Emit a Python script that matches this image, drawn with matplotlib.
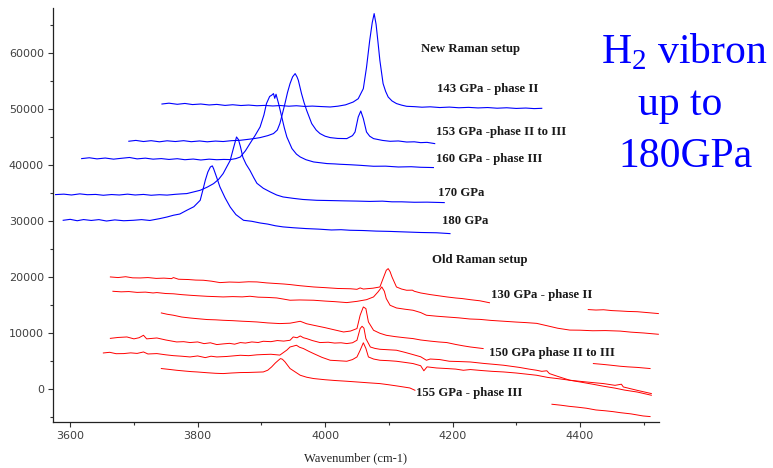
import numpy as np
import matplotlib
matplotlib.use("Agg")
import matplotlib.pyplot as plt
from matplotlib.ticker import MultipleLocator

nan = np.nan

# ---------------- data (wavenumber cm-1, intensity) ----------------
new_143 = [(3744,50950),(3755,51100),(3768,50900),(3780,51050),(3792,50850),(3805,50950),(3818,50780),
           (3830,50880),(3843,50700),(3855,50820),(3868,50680),(3880,50760),(3893,50640),(3905,50700),
           (3918,50600),(3930,50680),(3943,50560),(3955,50640),(3968,50520),(3980,50580),(3993,50500),
           (4008,50420),(4020,50560),(4032,50800),(4044,51300),(4052,51900),(4060,53700),(4065,57500),
           (4070,62300),(4074,65500),(4077,67100),(4080,65200),(4083,62000),(4086,58700),(4091,54600),
           (4095,53200),(4099,52200),(4105,51500),(4112,51030),(4120,50750),(4128,50540),(4140,50480),
           (4152,50380),(4165,50450),(4180,50320),(4195,50400),(4210,50280),(4225,50350),(4240,50250),
           (4255,50320),(4270,50200),(4285,50280),(4300,50160),(4315,50230),(4328,50130),(4340,50180)]

new_153 = [(3692,44300),(3703,44450),(3715,44250),(3727,44400),(3740,44200),(3752,44380),(3765,44250),
           (3778,44400),(3790,44220),(3803,44350),(3815,44200),(3828,44330),(3840,44250),(3853,44400),
           (3867,44470),(3880,44650),(3890,44800),(3898,44950),(3910,45300),(3919,45670),(3925,46300),
           (3929,47450),(3933,49200),(3937,51020),(3941,53000),(3945,54600),(3949,55800),(3953,56380),
           (3956,55780),(3958,55190),(3963,52810),(3967,51200),(3971,49830),(3979,47450),(3986,46300),
           (3992,45670),(4000,45200),(4008,44950),(4020,44800),(4034,44770),(4043,45300),(4047,45950),
           (4052,48630),(4056,49700),(4060,48350),(4065,45950),(4070,45200),(4076,44770),(4090,44450),
           (4102,44290),(4115,44350),(4128,44160),(4140,44200),(4150,44050),(4160,44100),(4172,43880)]

new_160 = [(3618,41200),(3630,41350),(3642,41150),(3655,41300),(3668,41100),(3680,41250),(3693,41400),
           (3705,41150),(3718,41280),(3730,41100),(3743,41200),(3755,41050),(3768,41180),(3780,41000),
           (3793,41120),(3805,40950),(3818,41100),(3830,41000),(3841,41050),(3851,41020),(3860,41200),
           (3867,41490),(3875,42600),(3882,43880),(3890,45300),(3898,46850),(3904,49000),(3908,51030),
           (3913,52300),(3916,52510),(3919,52810),(3921,51970),(3923,52690),(3927,51030),(3932,48630),
           (3936,46700),(3940,45060),(3948,42990),(3955,42000),(3961,41490),(3970,41000),(3982,40600),
           (3993,40450),(4003,40310),(4015,40250),(4023,40190),(4040,40100),(4055,40000),(4076,39830),
           (4095,39850),(4115,39700),(4135,39750),(4150,39650),(4170,39600)]

new_170 = [(3577,34770),(3590,34850),(3602,34700),(3615,34900),(3627,34750),(3640,34800),(3652,34650),
           (3665,34780),(3677,34700),(3690,34850),(3702,34700),(3715,34800),(3727,34650),(3740,34750),
           (3752,34680),(3765,34820),(3775,34900),(3783,34950),(3792,35200),(3804,35540),(3815,36100),
           (3825,36730),(3833,37500),(3840,38520),(3846,39800),(3851,40850),(3856,42990),(3861,45060),
           (3864,44600),(3867,43400),(3871,41430),(3876,40200),(3882,39110),(3888,37800),(3893,36790),
           (3903,35900),(3914,35240),(3924,34700),(3934,34350),(3950,34100),(3965,33900),(3987,33750),
           (4010,33700),(4030,33650),(4050,33610),(4070,33550),(4090,33600),(4105,33480),(4120,33480),
           (4140,33400),(4160,33420),(4187,33340)]

new_180 = [(3589,30180),(3600,30350),(3611,30100),(3621,30310),(3633,30150),(3645,30300),(3657,30050),
           (3670,30250),(3684,30100),(3699,30180),(3712,30300),(3725,30150),(3741,30490),(3752,30770),
           (3762,31080),(3772,31300),(3783,31970),(3794,32600),(3804,33750),(3808,35500),(3812,37330),
           (3816,38800),(3820,39710),(3823,39900),(3825,39410),(3830,37800),(3835,36130),(3843,34200),
           (3851,32560),(3860,31200),(3872,30180),(3885,30000),(3898,29700),(3910,29500),(3922,29200),
           (3934,29000),(3950,28850),(3970,28700),(3990,28600),(4010,28450),(4025,28500),(4039,28400),
           (4060,28350),(4080,28250),(4100,28200),(4125,28100),(4150,28000),(4175,27950),(4196,27800)]

old_130 = [(3663,20060),(3675,19950),(3687,20100),(3698,19900),(3710,19880),(3722,19950),(3735,19800),
           (3747,19850),(3759,19760),(3762,19950),(3770,19650),(3785,19600),(3797,19500),(3809,19470),
           (3822,19300),(3835,19050),(3850,19150),(3865,19100),(3880,19200),(3893,19170),(3908,19000),
           (3924,18880),(3935,18800),(3945,18700),(3960,18500),(3982,18270),(4000,18150),(4020,18000),
           (4040,17950),(4050,17850),(4055,18100),(4060,17900),(4075,18050),(4086,18270),(4091,19770),
           (4096,21250),(4099,21550),(4102,21000),(4105,20060),(4112,18270),(4120,17900),(4128,17680),
           (4137,17700),(4140,17500),(4150,17200),(4165,16910),(4178,16700),(4191,16490),(4205,16300),
           (4215,16200),(4228,16000),(4243,15800),(4258,15450),(nan,nan),(4413,14230),(4425,14150),
           (4437,14200),(4450,14050),(4463,13980),(4475,13900),(4490,13850),(4505,13700),(4523,13520)]

old_2 = [(3667,17500),(3680,17400),(3692,17450),(3705,17300),(3718,17350),(3730,17200),(3736,17270),
         (3750,17100),(3762,17050),(3775,16900),(3788,16790),(3800,16700),(3815,16600),(3827,16550),
         (3840,16490),(3855,16550),(3870,16500),(3882,16610),(3895,16450),(3910,16400),(3924,16310),
         (3935,16100),(3945,15900),(3960,15950),(3982,15900),(4000,15750),(4015,15650),(4034,15480),
         (4050,15700),(4065,16000),(4076,16490),(4083,17380),(4089,18270),(4093,17500),(4096,16200),
         (4102,15000),(4112,14520),(4125,14300),(4138,14110),(4150,13700),(4159,13220),(4175,13050),
         (4191,12910),(4210,12750),(4227,12550),(4243,12480),(4260,12300),(4280,12150),(4300,12000),
         (4316,11900),(4332,11770),(4350,11300),(4365,10900),(4384,10570),(4400,10550),(4420,10450),
         (4440,10480),(4463,10390),(4480,10200),(4500,10050),(4523,9820)]

old_3 = [(3743,13630),(3752,13400),(3762,13220),(3775,12900),(3788,12730),(3800,12600),(3815,12450),
         (3828,12400),(3840,12320),(3855,12250),(3870,12150),(3880,12100),(3893,12020),(3910,11850),
         (3929,11730),(3945,11800),(3961,12140),(3971,11700),(3982,11430),(4000,11000),(4015,10600),
         (4029,10230),(4040,10400),(4050,10840),(4055,13220),(4060,14700),(4064,14410),(4068,12020),
         (4076,10540),(4086,10000),(4096,9640),(4110,9400),(4125,9200),(4138,9050),(4150,8800),
         (4165,8600),(4178,8450),(4191,8340),(4205,8000),(4217,7750),(4228,7550),(4248,7270),(nan,nan),
         (4421,4590),(4435,4450),(4448,4300),(4463,4110),(4475,4000),(4490,3900),(4500,3800),(4510,3700)]

old_150 = [(3663,9090),(3675,9250),(3689,9340),(3700,9000),(3708,9200),(3715,9640),(3720,9000),
           (3736,9160),(3750,8800),(3767,8450),(3778,8500),(3788,8340),(3800,8450),(3810,8150),
           (3820,8300),(3830,7980),(3840,8100),(3850,8200),(3858,8050),(3867,8340),(3875,8250),
           (3885,8450),(3895,8350),(3903,8570),(3915,8500),(3925,8700),(3935,8600),(3945,8750),
           (3950,9340),(3956,9200),(3961,9520),(3966,9200),(3971,9050),(3980,8700),(3992,8340),
           (4005,8400),(4015,8250),(4025,8300),(4034,8160),(4043,8300),(4050,8750),(4055,10840),
           (4058,11250),(4061,10900),(4064,9050),(4071,7550),(4078,7300),(4086,7140),(4100,7050),
           (4112,6970),(4125,6600),(4138,6190),(4150,5800),(4159,5180),(4165,5400),(4180,5300),
           (4195,5000),(4210,4950),(4228,4870),(4250,4600),(4265,4450),(4280,4290),(4305,3900),
           (4320,3600),(4332,3390),(4340,3200),(4348,3300),(4352,2800),(4365,2300),(4384,1610),
           (4410,1300),(4437,1010),(4455,700),(4465,900),(4468,410),(4490,-200),(4512,-770)]

old_5 = [(3652,6480),(3662,6600),(3672,6350),(3684,6370),(3695,6500),(3705,6400),(3715,6660),
         (3722,6300),(3736,6370),(3750,6150),(3762,6000),(3775,5900),(3788,5770),(3800,5950),
         (3812,5650),(3821,5900),(3830,5770),(3845,5850),(3855,5950),(3867,6070),(3880,6000),
         (3893,6150),(3903,6200),(3915,6250),(3929,6100),(3940,7000),(3945,7550),(3950,7700),
         (3955,7860),(3960,7500),(3966,7270),(3974,6800),(3982,6370),(3995,5700),(4008,5180),
         (4020,5100),(4034,5000),(4043,5300),(4050,5770),(4055,6960),(4060,8300),(4064,7300),
         (4068,5770),(4076,5400),(4086,5180),(4100,5100),(4112,5000),(4125,4800),(4138,4590),
         (4150,4200),(4155,3300),(4160,4000),(4175,3800),(4191,3700),(4205,3600),(4217,3390),
         (4228,3520),(4245,3350),(4262,3200),(4280,3090),(4300,2900),(4316,2700),(4332,2500),
         (4350,2100),(4365,1900),(4384,1610),(4400,1300),(4420,900),(4437,540),(4455,200),
         (4470,-150),(4490,-500),(4512,-1070)]

old_155 = [(3743,3700),(3755,3550),(3767,3390),(3780,3250),(3790,3150),(3799,3090),(3815,2950),
           (3828,2850),(3840,2800),(3853,2900),(3867,2980),(3880,3000),(3893,3050),(3903,3090),
           (3910,3400),(3916,3980),(3922,4700),(3927,5200),(3930,5480),(3933,5360),(3937,4900),
           (3941,4300),(3945,3700),(3953,3100),(3961,2500),(3971,2150),(3982,1910),(4000,1700),
           (4017,1550),(4034,1430),(4050,1300),(4068,1150),(4086,1010),(4100,800),(4115,550),
           (4133,230),(4141,-180),(nan,nan),(4356,-2680),(4370,-2850),(4383,-3050),(4396,-3200),
           (4410,-3390),(4425,-3700),(4440,-3850),(4452,-4000),(4463,-4180),(4480,-4400),
           (4499,-4770),(4510,-4880)]

new_curves = [new_143, new_153, new_160, new_170, new_180]
old_curves = [old_130, old_2, old_3, old_150, old_5, old_155]

new_labels = ["New Raman setup", "143 GPa - phase II", "153 GPa -phase II to III",
              "160 GPa - phase III", "170 GPa", "180 GPa"]
old_labels = ["Old Raman setup", "130 GPa - phase II", "150 GPa phase II to III",
              "155 GPa - phase III"]

x_ticks = [3600, 3800, 4000, 4200, 4400]
y_ticks = [0, 10000, 20000, 30000, 40000, 50000, 60000]

# ---------------- figure ----------------
plt.rcParams['mathtext.fontset'] = 'custom'
plt.rcParams['mathtext.rm'] = 'Liberation Serif'

fig = plt.figure(figsize=(7.73, 4.68), dpi=100)
ax = fig.add_axes([53/773, 46/468, 606/773, 414/468])

for c in new_curves:
    xs, ys = zip(*c)
    ax.plot(xs, ys, color='#0000ff', lw=0.8)
for c in old_curves:
    xs, ys = zip(*c)
    ax.plot(xs, ys, color='#ff0000', lw=0.7)

ax.set_xlim(3573, 4524)
ax.set_ylim(-5850, 68100)
ax.set_xticks(x_ticks)
ax.set_yticks(y_ticks)
ax.xaxis.set_minor_locator(MultipleLocator(100))
ax.yaxis.set_minor_locator(MultipleLocator(5000))
for s in ['top', 'right']:
    ax.spines[s].set_visible(False)
for s in ['left', 'bottom']:
    ax.spines[s].set_color('#222222')
    ax.spines[s].set_linewidth(0.9)
ax.tick_params(which='major', length=3.5, width=0.8, color='#333333',
               labelsize=8.0, labelcolor='#404040', pad=3)
ax.tick_params(which='minor', length=2.5, width=0.8, color='#333333')
ax.set_xlabel("Wavenumber (cm-1)", family='Liberation Serif', fontsize=9,
              color='#222222', labelpad=8)

lab = dict(family='Liberation Serif', fontweight='bold', fontsize=9.2,
           color='#1a1a1a', ha='left', va='center')
new_pos = [(4150, 60700), (4175, 53680), (4174, 45950), (4174, 41120), (4177, 35110), (4183, 30110)]
for t, (px, py) in zip(new_labels, new_pos):
    ax.text(px, py, t, **lab)
old_pos = [(4167, 23090), (4260, 16840), (4257, 6540), (4143, -710)]
for t, (px, py) in zip(old_labels, old_pos):
    ax.text(px, py, t, **lab)

big = dict(family='Liberation Serif', fontsize=30, color='#0000ff', ha='center', va='baseline')
fig.text(0.885, 0.8647, r"H$_\mathrm{2}$ vibron", **big)
fig.text(0.880, 0.7543, "up to", **big)
fig.text(0.887, 0.6439, "180GPa", **big)

fig.savefig("out.png", dpi=100)
